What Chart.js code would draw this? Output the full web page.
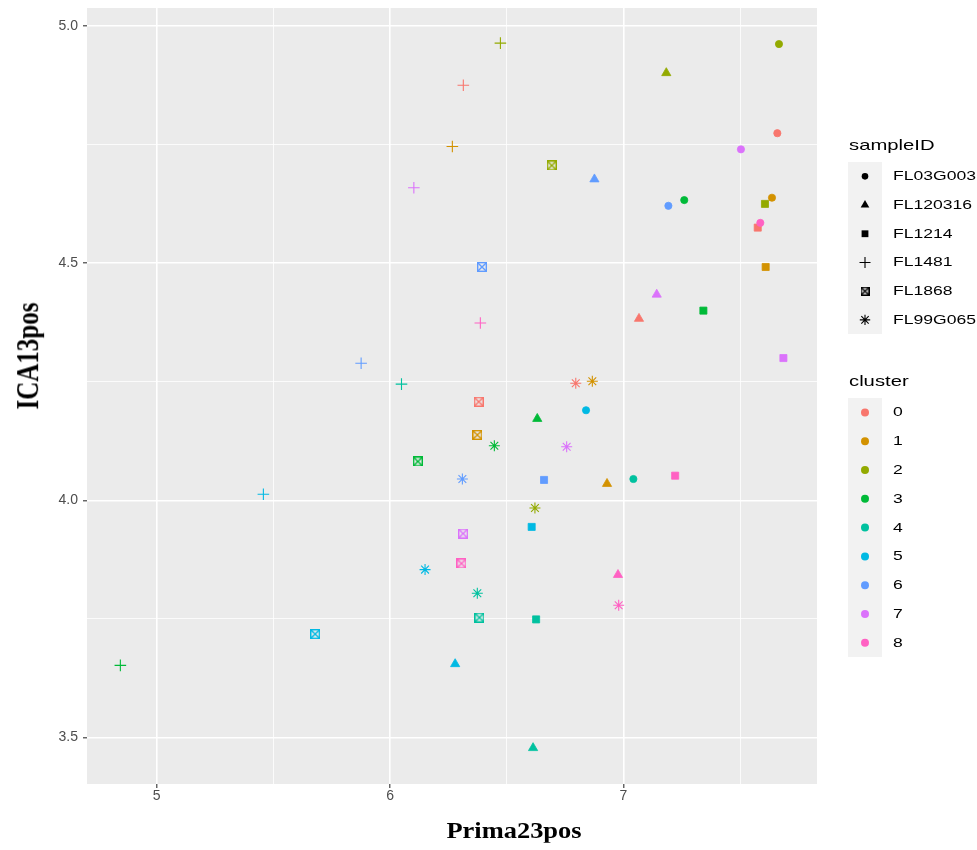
<!DOCTYPE html>
<html lang="en">
<head>
  <meta charset="UTF-8">
  <title>ICA13pos vs Prima23pos</title>
  <script src="https://cdn.jsdelivr.net/npm/chart.js"></script>
  <style>
    body {
      margin: 0;
      background: #fff;
      font-family: "Liberation Sans", Arial, sans-serif;
    }

    #wrap {
      position: relative;
      width: 977px;
      height: 850px;
      overflow: hidden;
    }

    #grafico {
      position: absolute;
      left: 0;
      top: 0;
    }

    .titulo-eixo {
      position: absolute;
      font-family: "Liberation Serif", "Times New Roman", serif;
      font-weight: bold;
      color: #000;
      white-space: nowrap;
      line-height: 1;
    }

    #titulo-x {
      left: 514px;
      top: 830px;
      font-size: 23px;
      transform: translate(-50%, -50%) scaleX(1.15);
    }

    #titulo-y {
      left: 27px;
      top: 356px;
      font-size: 25px;
      transform: translate(-50%, -50%) scaleX(1.25) rotate(-90deg);
    }

    .leg-titulo, .leg-rotulo {
      position: absolute;
      white-space: nowrap;
      color: #000;
      transform-origin: left center;
    }

    .leg-titulo {
      font-size: 15px;
      line-height: 16px;
      transform: scaleX(1.35);
    }

    .leg-rotulo {
      font-size: 13.5px;
      line-height: 14px;
      transform: scaleX(1.3);
    }

    .leg-chave {
      position: absolute;
      background: #F2F2F2;
    }
  </style>
</head>
<body>
  <div id="wrap">
    <canvas id="grafico" width="977" height="850"></canvas>
    <div class="titulo-eixo" id="titulo-x">Prima23pos</div>
    <div class="titulo-eixo" id="titulo-y">ICA13pos</div>
  </div>

  <script>
    // categorias
    const clusters = ['0', '1', '2', '3', '4', '5', '6', '7', '8'];
    const sampleIDs = ['FL03G003', 'FL120316', 'FL1214', 'FL1481', 'FL1868', 'FL99G065'];

    // valores por sampleID, na ordem dos clusters 0..8
    const xFL03G003 = [7.660, 7.637, 7.667, 7.261, 7.043, 6.840, 7.193, 7.504, 7.587];
    const yFL03G003 = [4.774, 4.638, 4.962, 4.633, 4.045, 4.190, 4.621, 4.740, 4.585];

    const xFL120316 = [7.067, 6.930, 7.184, 6.631, 6.613, 6.279, 6.876, 7.143, 6.977];
    const yFL120316 = [4.383, 4.035, 4.901, 4.172, 3.478, 3.655, 4.677, 4.434, 3.843];

    const xFL1214 = [7.576, 7.610, 7.607, 7.343, 6.626, 6.607, 6.660, 7.686, 7.222];
    const yFL1214 = [4.575, 4.492, 4.625, 4.400, 3.749, 3.944, 4.043, 4.300, 4.052];

    const xFL1481 = [6.314, 6.267, 6.473, 4.844, 6.049, 5.457, 5.876, 6.102, 6.387];
    const yFL1481 = [4.875, 4.746, 4.964, 3.652, 4.245, 4.013, 4.289, 4.659, 4.374];

    const xFL1868 = [6.380, 6.374, 6.693, 6.119, 6.383, 5.679, 6.394, 6.313, 6.306];
    const yFL1868 = [4.208, 4.138, 4.706, 4.082, 3.753, 3.718, 4.492, 3.930, 3.867];

    const xFL99G065 = [6.796, 6.867, 6.621, 6.447, 6.374, 6.150, 6.310, 6.757, 6.980];
    const yFL99G065 = [4.247, 4.251, 3.984, 4.115, 3.804, 3.854, 4.045, 4.113, 3.779];

    // ticks
    const xTicksMaior = [5, 6, 7];
    const xTicksMenor = [5.5, 6.5, 7.5];
    const yTicksMaior = [3.5, 4.0, 4.5, 5.0];
    const yTicksMenor = [3.75, 4.25, 4.75];

    const cores = ['#F8766D', '#D39200', '#93AA00', '#00BA38', '#00C19F',
                   '#00B9E3', '#619CFF', '#DB72FB', '#FF61C3'];
    const formas = ['circle', 'triangle', 'rect', 'cross', 'boxx', 'star'];

    const xs = [xFL03G003, xFL120316, xFL1214, xFL1481, xFL1868, xFL99G065];
    const ys = [yFL03G003, yFL120316, yFL1214, yFL1481, yFL1868, yFL99G065];

    // quadrado com X (shape 7 do ggplot)
    function caixaX(cor, tam) {
      const c = document.createElement('canvas');
      c.width = tam; c.height = tam;
      const g = c.getContext('2d');
      g.strokeStyle = cor;
      g.lineWidth = 1.4;
      const h = 0.7;
      g.strokeRect(h, h, tam - 2 * h, tam - 2 * h);
      g.beginPath();
      g.moveTo(h, h); g.lineTo(tam - h, tam - h);
      g.moveTo(tam - h, h); g.lineTo(h, tam - h);
      g.stroke();
      return c;
    }

    const datasets = sampleIDs.map((id, i) => {
      const forma = formas[i];
      const ds = {
        label: id,
        data: clusters.map((c, j) => ({ x: xs[i][j], y: ys[i][j] })),
        pointBackgroundColor: cores,
        pointBorderColor: cores,
        pointBorderWidth: 0.8,
        pointStyle: forma
      };
      if (forma === 'circle') ds.pointRadius = 3.6;
      if (forma === 'triangle') ds.pointRadius = 5.3;
      if (forma === 'rect') ds.pointRadius = 5.0;
      if (forma === 'cross') { ds.pointRadius = 5.8; ds.pointBorderWidth = 1.1; }
      if (forma === 'star') { ds.pointRadius = 5.5; ds.pointBorderWidth = 1.1; }
      if (forma === 'boxx') { ds.pointStyle = cores.map(c => caixaX(c, 10)); ds.pointRadius = 5; }
      return ds;
    });

    const fundoPainel = {
      id: 'fundoPainel',
      beforeDraw(chart) {
        const { ctx, chartArea: a } = chart;
        ctx.save();
        ctx.fillStyle = '#EBEBEB';
        ctx.fillRect(a.left, a.top, a.right - a.left, a.bottom - a.top);
        ctx.restore();
      }
    };

    function eixo(maior, menor, min, max, fmt) {
      return {
        type: 'linear',
        min, max,
        afterBuildTicks: s => {
          s.ticks = [...maior, ...menor].sort((a, b) => a - b).map(v => ({ value: v }));
        },
        ticks: {
          callback: v => maior.includes(v) ? fmt(v) : '',
          color: '#4D4D4D',
          font: { size: 14, family: '"Liberation Sans", Arial, sans-serif' },
          autoSkip: false,
          maxRotation: 0
        },
        grid: {
          color: '#FFFFFF',
          lineWidth: c => maior.includes(c.tick.value) ? 1.6 : 0.8,
          tickColor: c => maior.includes(c.tick.value) ? '#333333' : 'rgba(0,0,0,0)',
          tickLength: 4,
          tickWidth: 1.1
        },
        border: { display: false }
      };
    }

    const escalaX = eixo(xTicksMaior, xTicksMenor, 4.701, 7.830, v => String(v));
    escalaX.ticks.padding = 0;
    escalaX.afterFit = s => { s.height = 66; s.paddingLeft = 0; s.paddingRight = 0; };

    const escalaY = eixo(yTicksMaior, yTicksMenor, 3.402, 5.038, v => v.toFixed(1));
    escalaY.ticks.padding = 5;
    escalaY.afterFit = s => { s.width = 87; s.paddingTop = 0; s.paddingBottom = 0; };

    new Chart(document.getElementById('grafico').getContext('2d'), {
      type: 'scatter',
      data: { datasets },
      options: {
        responsive: false,
        animation: false,
        events: [],
        layout: { padding: { top: 8, right: 160, left: 0, bottom: 0 } },
        plugins: { legend: { display: false }, tooltip: { enabled: false } },
        scales: { x: escalaX, y: escalaY }
      },
      plugins: [fundoPainel]
    });

    // legendas (html)
    function simbolo(g, forma, x, y, cor) {
      g.fillStyle = cor;
      g.strokeStyle = cor;
      g.lineWidth = 1.1;
      g.beginPath();
      if (forma === 'circle') {
        g.arc(x, y, 3.3, 0, 2 * Math.PI);
        g.fill();
      } else if (forma === 'dot') {
        g.arc(x, y, 4.0, 0, 2 * Math.PI);
        g.fill();
      } else if (forma === 'triangle') {
        const r = 5;
        g.moveTo(x, y - r);
        g.lineTo(x + r * 0.866, y + r / 2);
        g.lineTo(x - r * 0.866, y + r / 2);
        g.closePath();
        g.fill();
      } else if (forma === 'rect') {
        g.fillRect(x - 3.4, y - 3.4, 6.8, 6.8);
      } else if (forma === 'cross') {
        g.moveTo(x - 5.5, y); g.lineTo(x + 5.5, y);
        g.moveTo(x, y - 5.5); g.lineTo(x, y + 5.5);
        g.stroke();
      } else if (forma === 'boxx') {
        g.drawImage(caixaX(cor, 9), x - 4.5, y - 4.5);
      } else if (forma === 'star') {
        const r = 5.2, d = r * 0.707;
        g.moveTo(x - r, y); g.lineTo(x + r, y);
        g.moveTo(x, y - r); g.lineTo(x, y + r);
        g.moveTo(x - d, y - d); g.lineTo(x + d, y + d);
        g.moveTo(x + d, y - d); g.lineTo(x - d, y + d);
        g.stroke();
      }
    }

    function legenda(titulo, rotulos, centroTitulo, topoChave, passo, desenho) {
      const wrap = document.getElementById('wrap');
      const t = document.createElement('div');
      t.className = 'leg-titulo';
      t.textContent = titulo;
      t.style.left = '849px';
      t.style.top = (centroTitulo - 8) + 'px';
      wrap.appendChild(t);

      const chave = document.createElement('div');
      chave.className = 'leg-chave';
      chave.style.left = '848px';
      chave.style.top = topoChave + 'px';
      chave.style.width = '34px';
      chave.style.height = (rotulos.length * passo) + 'px';
      wrap.appendChild(chave);

      const cv = document.createElement('canvas');
      cv.width = 34;
      cv.height = Math.ceil(rotulos.length * passo);
      cv.style.position = 'absolute';
      cv.style.left = '848px';
      cv.style.top = topoChave + 'px';
      wrap.appendChild(cv);
      const g = cv.getContext('2d');

      rotulos.forEach((r, i) => {
        const cy = passo * (i + 0.5);
        desenho(g, i, 17, cy);
        const l = document.createElement('div');
        l.className = 'leg-rotulo';
        l.textContent = r;
        l.style.left = '893px';
        l.style.top = (topoChave + cy - 7) + 'px';
        wrap.appendChild(l);
      });
    }

    legenda('sampleID', sampleIDs, 145, 162, 28.7,
      (g, i, x, y) => simbolo(g, formas[i], x, y, '#000'));
    legenda('cluster', clusters, 380.5, 398, 28.8,
      (g, i, x, y) => simbolo(g, 'dot', x, y, cores[i]));
  </script>
</body>
</html>
